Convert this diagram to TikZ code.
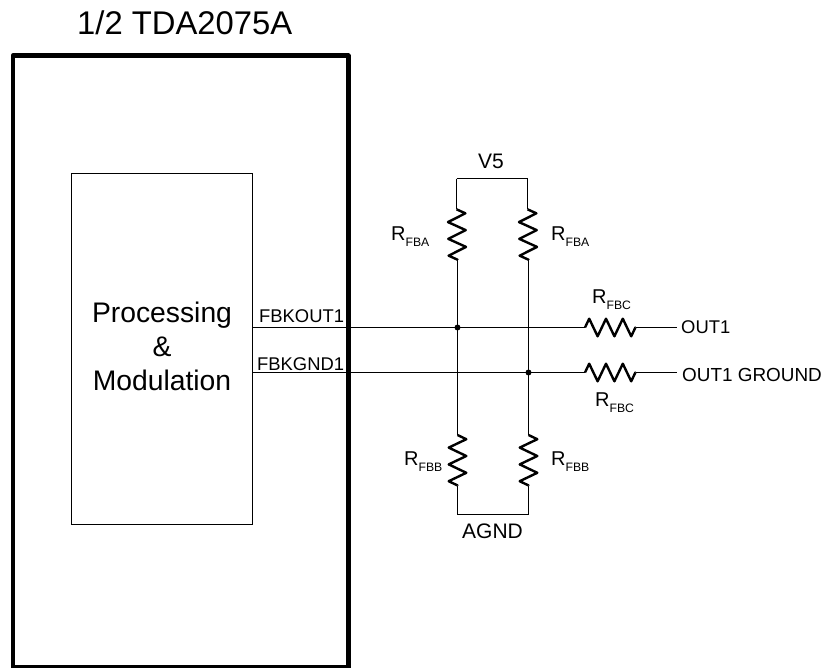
\documentclass[tikz,border=0pt]{standalone}
\usepackage{fontspec}
\setmainfont{Liberation Sans}
\usetikzlibrary{decorations.pathmorphing}
\newcommand{\rfb}[1]{R\raisebox{-6.5pt}{\fontsize{12.2}{14}\selectfont #1}}

\begin{document}
\begin{tikzpicture}
[x=1pt,y=1pt,
  lineDecorate/.style={-,line width=1.1pt},%
  resistorDecorate/.style={-,line width=2.4pt,line join=round,decorate,
    decoration={zigzag,amplitude=8.8pt,segment length=16.8pt}},
  dotDecorate/.style={shape=circle,fill,inner sep=0pt,minimum size=6pt},
  labelDecorate/.style={inner sep=0pt,anchor=base west,font=\fontsize{20}{24}\selectfont},
  pinDecorate/.style={inner sep=0pt,anchor=base west,font=\fontsize{18.4}{22}\selectfont},
  tagDecorate/.style={inner sep=0pt,anchor=base west,font=\fontsize{21}{25}\selectfont},
  procDecorate/.style={inner sep=0pt,anchor=base,font=\fontsize{28.3}{34}\selectfont}]
\useasboundingbox (0,-667) rectangle (822,0);
%% boxes
\node (chip) at (180.6,-361.8) [draw,line width=4.8pt,line join=round,minimum width=335.2pt,minimum height=612pt,inner sep=0pt,outer sep=0pt] {};
\node (proc) at (161.8,-348.5) [draw,line width=1pt,minimum width=181pt,minimum height=351pt,inner sep=0pt,outer sep=0pt] {};
%% junctions and pins
\foreach \nodename/\x/\y in {
  fbkout/252/327.5, fbkgnd/252/372.5,
  v5l/456.5/178.5, v5r/527.5/178.5,
  ratl/456.5/209.3, ratr/527.5/209.3,
  ral/457.5/260, rar/528.5/260,
  rbl/457.5/435, rbr/528.5/435,
  rbtl/457.5/485.7, rbtr/528.5/485.7,
  agndl/457.5/514.5, agndr/528.5/514.5,
  rco/585/327.5, rcg/585/372.5,
  rcoe/635.7/327.5, rcge/635.7/372.5,
  out/677/327.5, gnd/677/372.5}
{
  \coordinate (\nodename) at (\x,-\y);
}
\node (jout) at (457.5,-327.5) [dotDecorate] {};
\node (jgnd) at (528.5,-372.5) [dotDecorate] {};
%% wires
\path
\foreach \startnode/\endnode in {
  fbkout/rco, fbkgnd/rcg, v5l/v5r, v5l/ratl, v5r/ratr,
  ral/rbl, rar/rbr, rbtl/agndl, rbtr/agndr, agndl/agndr,
  rcoe/out, rcge/gnd}
{
  (\startnode) edge[lineDecorate] (\endnode)
}
\foreach \startnode/\endnode in {
  ratl/ral, ratr/rar, rbl/rbtl, rbr/rbtr, rco/rcoe, rcg/rcge}
{
  (\startnode) edge[resistorDecorate] (\endnode)
};
%% labels
\foreach \nodename/\x/\y/\labeltext in {
  lbla/391/240/\rfb{FBA}, lblb/551/240/\rfb{FBA},
  lblc/404/465/\rfb{FBB}, lbld/551/465/\rfb{FBB},
  lble/592/303/\rfb{FBC}, lblf/595/406/\rfb{FBC}}
{
  \node (\nodename) at (\x,-\y) [labelDecorate] {\labeltext};
}
\foreach \nodename/\x/\y/\labeltext in {
  pina/259/322/FBKOUT1, pinb/257/370/FBKGND1,
  pinc/681/333/OUT1}
{
  \node (\nodename) at (\x,-\y) [pinDecorate] {\labeltext};
}
\node (pind) at (682,-381) [inner sep=0pt,anchor=base west,font=\fontsize{18.9}{22}\selectfont] {OUT1 GROUND};
\node (lblg) at (478,-168) [tagDecorate] {V5};
\node (lblh) at (462,-538) [tagDecorate] {AGND};
\node (title) at (77,-34) [inner sep=0pt,anchor=base west,font=\fontsize{32.8}{38}\selectfont] {1/2 TDA2075A};
\node (proctop) at (162,-322) [procDecorate] {Processing};
\node (procmid) at (162,-356) [procDecorate] {\&};
\node (procbot) at (162,-390) [procDecorate] {Modulation};
\end{tikzpicture}
\end{document}
